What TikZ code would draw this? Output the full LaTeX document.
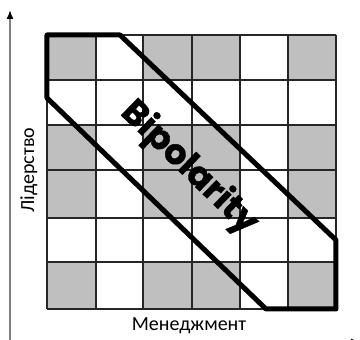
\documentclass[tikz,border=0pt]{standalone}
\usepackage{fontspec}
\setmainfont{Carlito}
\newfontfamily\boldfont{Poppins}[UprightFont=* Bold,FakeBold=1]
\usetikzlibrary{arrows.meta}
\begin{document}
\begin{tikzpicture}[x=1pt,y=-1pt,
  cellgray/.style={fill=black!25},
  gridline/.style={draw=black!85,line width=1.1pt},
  band/.style={draw=black,line width=5pt,line join=round},
  axisline/.style={draw=black!50,line width=1.5pt,-{Latex[length=9pt,width=7pt,color=black]}},
  axlabel/.style={font=\fontsize{20}{22}\selectfont,inner sep=0pt}]
\useasboundingbox[fill=white] (0,0) rectangle (360,340);
% gray cells
\foreach \r/\ya/\yb in {1/35/80,3/125/170,4/170/218,6/262/309}{
  \foreach \c/\xa/\xb in {1/47/96,3/143/192,4/192/240,6/288/336}{
    \fill[cellgray] (\xa,\ya) rectangle (\xb,\yb);
  }
}
% grid
\foreach \x in {47,96,143,192,240,288,336}{\draw[gridline] (\x,35) -- (\x,309);}
\foreach \y in {35,80,125,170,218,262,309}{\draw[gridline] (47,\y) -- (336,\y);}
% band
\draw[band] (47,35) -- (120,35) -- (336,240) -- (336,309) -- (266,309) -- (47,98) -- cycle;
\node[rotate=-44,inner sep=0pt] (bip) at (189,168) {\boldfont\fontsize{35}{35}\selectfont Bipolarity};
% axes
\coordinate (vs) at (10,345);
\coordinate (ve) at (10,10);
\draw[axisline] (vs) -- (ve);
\coordinate (hs) at (20,342);
\coordinate (he) at (360,342);
\draw[axisline] (hs) -- (he);
\node[axlabel,rotate=90] (ly) at (29,170) {Лідерство};
\node[axlabel] (lx) at (189,326) {Менеджмент};
\end{tikzpicture}
\end{document}
